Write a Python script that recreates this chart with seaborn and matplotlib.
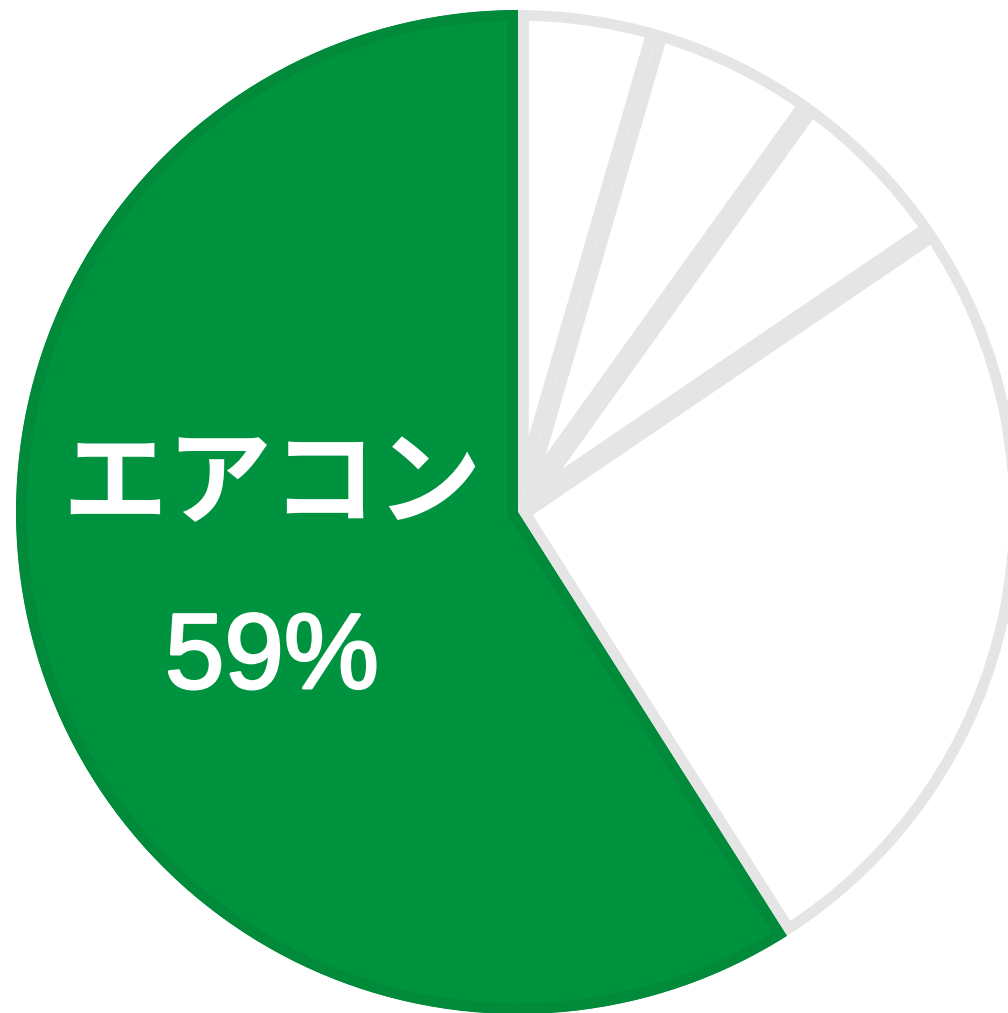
import matplotlib
matplotlib.use("Agg")
import matplotlib.pyplot as plt
import matplotlib.patheffects as pe
import seaborn as sns

sns.set_theme(style="white")
plt.rcParams['font.family'] = ['Noto Sans CJK JP', 'DejaVu Sans']

# data (clockwise from 12 o'clock)
categories = ["その他A", "その他B", "その他C", "その他D", "エアコン"]
values = [4.5, 5.4, 5.6, 25.5, 59.0]
label_text = "エアコン"
pct_text = "59%"

fills = ["#ffffff", "#ffffff", "#ffffff", "#ffffff", "#00933f"]
edges = ["#e5e5e5", "#e5e5e5", "#e5e5e5", "#e5e5e5", "#008a39"]

W, H = 1008, 1013
fig = plt.figure(figsize=(W / 100, H / 100), dpi=100)
ax = fig.add_axes([0, 0, 1, 1])
cx, cy, R = 518, 512, 502

wedges, _ = ax.pie(values, startangle=90, counterclock=False, colors=fills,
                   radius=1.0, center=(0, 0))
for w, ec in zip(wedges, edges):
    w.set_edgecolor(ec)
    w.set_linewidth(15.5)
    w.set_clip_path(w)
    w.set_clip_on(True)

ax.text(-0.49, 0.054, label_text, color="white", fontsize=75.5, fontweight="bold",
        ha="center", va="center")
ax.text(-0.49, -0.295, pct_text, color="white", fontsize=77,
        family=["Liberation Sans", "DejaVu Sans"],
        ha="center", va="center",
        path_effects=[pe.withStroke(linewidth=2.0, foreground="white")])

ax.set_aspect("auto")
ax.set_xlim(-cx / R, (W - cx) / R)
ax.set_ylim(-(H - cy) / R, cy / R)
ax.axis("off")
fig.savefig("out.png", dpi=100, facecolor="white")
